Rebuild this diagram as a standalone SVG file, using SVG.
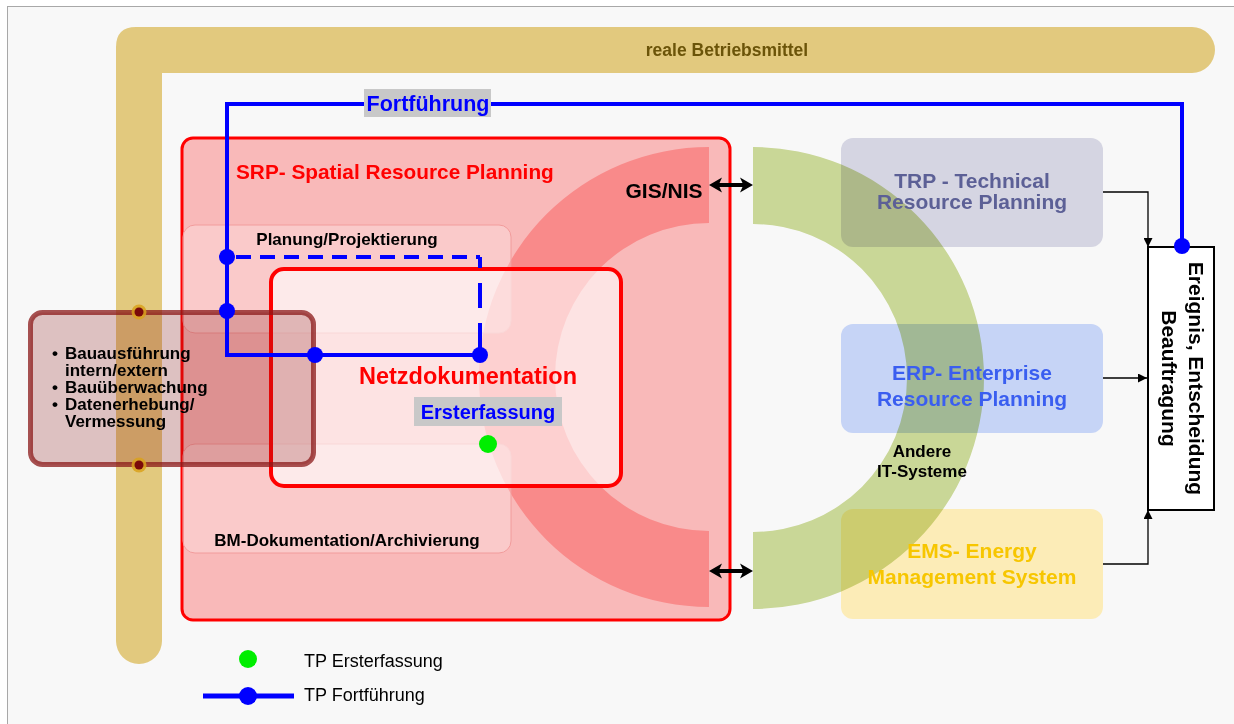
<svg xmlns="http://www.w3.org/2000/svg" width="1234" height="724" viewBox="0 0 1234 724">
<defs>
<marker id="ah" viewBox="0 0 10 10" refX="10" refY="5" markerWidth="11" markerHeight="9" markerUnits="userSpaceOnUse" orient="auto"><path d="M0,0 L10,5 L0,10 Z" fill="#000"/></marker>
<style>
text{font-family:"Liberation Sans",Arial,sans-serif;font-weight:bold}
.t17{font-size:17px;fill:#000}
.t21{font-size:21px}
.mid{text-anchor:middle}
.sub{fill:#ffffff;fill-opacity:0.25;stroke:#f29c9c;stroke-width:1}
.blue{fill:none;stroke:#0000ff;stroke-width:4}
.dot{fill:#0000ff}
.thin{fill:none;stroke:#000;stroke-width:1.3}
.leg{font-weight:normal;font-size:18px;fill:#000}
.goldpt{fill:#d9a21c;fill-opacity:0.85}
.redpt{fill:#7a0a0a}
</style>
</defs>

<rect x="7.5" y="6.5" width="1240" height="730" fill="#f8f8f8" stroke="#a8a8a8" stroke-width="1"/>

<g id="betriebsmittel">
<path d="M116,641 L116,47 Q116,27 136,27 L1192,27 A23,23 0 0 1 1192,73 L162,73 L162,641 A23,23 0 0 1 116,641 Z" fill="#e2c97e"/>
<text x="727" y="56" class="mid" style="font-size:17.5px;fill:#6b5409">reale Betriebsmittel</text>
</g>

<g id="srp">
<rect x="182" y="138" width="548" height="482" rx="11" fill="#f9b9b9" stroke="#ff0000" stroke-width="3"/>
<text x="236" y="179" style="font-size:20.8px;fill:#ff0000">SRP- Spatial Resource Planning</text>
</g>

<g id="gis-nis">
<path d="M709,147 A230,230 0 0 0 709,607 L709,531 A154,154 0 0 1 709,223 Z" fill="#f98a8a"/>
<text x="664" y="198" class="mid" style="font-size:21px;fill:#000">GIS/NIS</text>
</g>

<g id="planung">
<rect x="183" y="225" width="328" height="108" rx="12" class="sub"/>
<text x="347" y="245" class="t17 mid">Planung/Projektierung</text>
</g>

<g id="bm-doku">
<rect x="183" y="444" width="328" height="109" rx="12" class="sub"/>
<text x="347" y="546" class="t17 mid">BM-Dokumentation/Archivierung</text>
</g>

<g id="netzdokumentation">
<rect x="271" y="269" width="350" height="217" rx="13" fill="#ffffff" fill-opacity="0.6" stroke="#ff0000" stroke-width="4"/>
<text x="468" y="384" class="mid" style="font-size:23.5px;fill:#ff0000">Netzdokumentation</text>
<rect x="414" y="397" width="148" height="29" fill="#c8c8c8"/>
<text x="488" y="419" class="mid" style="font-size:20px;fill:#0000ff">Ersterfassung</text>
<circle cx="488" cy="444" r="9" fill="#00ee00"/>
</g>

<g id="trp">
<rect x="841" y="138" width="262" height="109" rx="12" fill="#d5d5e2"/>
</g>
<g id="erp">
<rect x="841" y="324" width="262" height="109" rx="12" fill="#c6d4f6"/>
</g>
<g id="ems">
<rect x="841" y="509" width="262" height="110" rx="12" fill="#fcecb7"/>
</g>

<g id="andere-it">
<path d="M753,147 A231,231 0 0 1 753,609 L753,532 A154,154 0 0 0 753,224 Z" fill="#cfdd9b" style="mix-blend-mode:multiply"/>
<text x="922" y="457" class="t17 mid">Andere</text>
<text x="922" y="477" class="t17 mid">IT-Systeme</text>
</g>

<g id="trp-text">
<text x="972" y="188" class="t21 mid" fill="#5c6096">TRP - Technical</text>
<text x="972" y="209" class="t21 mid" fill="#5c6096">Resource Planning</text>
</g>
<g id="erp-text">
<text x="972" y="380" class="t21 mid" fill="#3a5ef0">ERP- Enterprise</text>
<text x="972" y="406" class="t21 mid" fill="#3a5ef0">Resource Planning</text>
</g>
<g id="ems-text">
<text x="972" y="558" class="t21 mid" fill="#f7c600">EMS- Energy</text>
<text x="972" y="584" class="t21 mid" fill="#f7c600">Management System</text>
</g>

<g id="ereignis">
<rect x="1148" y="247" width="66" height="263" fill="#ffffff" stroke="#000" stroke-width="2"/>
<g transform="translate(1189,378.5) rotate(90)">
<text x="0" y="0" class="t21 mid" fill="#000">Ereignis, Entscheidung</text>
<text x="0" y="27" class="t21 mid" fill="#000">Beauftragung</text>
</g>
</g>

<g id="bauausfuehrung">
<rect x="30.5" y="312.5" width="283" height="152" rx="12" fill="#8b1a1a" fill-opacity="0.25" stroke="#8b1a1a" stroke-opacity="0.75" stroke-width="5"/>
<circle cx="139" cy="312" r="7.5" class="goldpt"/>
<circle cx="139" cy="312" r="4.5" class="redpt"/>
<circle cx="139" cy="465" r="7.5" class="goldpt"/>
<circle cx="139" cy="465" r="4.5" class="redpt"/>
<text x="52" y="359" class="t17">•</text>
<text x="65" y="359" class="t17">Bauausführung</text>
<text x="65" y="376" class="t17">intern/extern</text>
<text x="52" y="393" class="t17">•</text>
<text x="65" y="393" class="t17">Bauüberwachung</text>
<text x="52" y="410" class="t17">•</text>
<text x="65" y="410" class="t17">Datenerhebung/</text>
<text x="65" y="427" class="t17">Vermessung</text>
</g>

<g id="connectors">
<path d="M1103,192 H1148 V247" class="thin" marker-end="url(#ah)"/>
<path d="M1103,378 H1147" class="thin" marker-end="url(#ah)"/>
<path d="M1103,564 H1148 V510" class="thin" marker-end="url(#ah)"/>
<polygon points="709,185 722,177.5 719.5,183 742.5,183 740,177.5 753,185 740,192.5 742.5,187 719.5,187 722,192.5" fill="#000"/>
<polygon points="709,571 722,563.5 719.5,569 742.5,569 740,563.5 753,571 740,578.5 742.5,573 719.5,573 722,578.5" fill="#000"/>
<path d="M1182,246 V104 H227 V355 H480" class="blue"/>
<path d="M236,257 H480" class="blue" stroke-dasharray="15 9"/>
<path d="M480,257 V355" class="blue" stroke-dasharray="11 15 25 15 40"/>
<rect x="364" y="89" width="127" height="28" fill="#c8c8c8"/>
<text x="428" y="111" class="mid" style="font-size:21.5px;fill:#0000ff">Fortführung</text>
<circle cx="227" cy="257" r="8" class="dot"/>
<circle cx="227" cy="311" r="8" class="dot"/>
<circle cx="315" cy="355" r="8" class="dot"/>
<circle cx="480" cy="355" r="8" class="dot"/>
<circle cx="1182" cy="246" r="8" class="dot"/>
</g>

<g id="legend">
<circle cx="248" cy="659" r="9" fill="#00ee00"/>
<text x="304" y="667" class="leg">TP Ersterfassung</text>
<path d="M203,696 H294" stroke="#0000ff" stroke-width="5"/>
<circle cx="248" cy="696" r="9" class="dot"/>
<text x="304" y="701" class="leg">TP Fortführung</text>
</g>
</svg>
